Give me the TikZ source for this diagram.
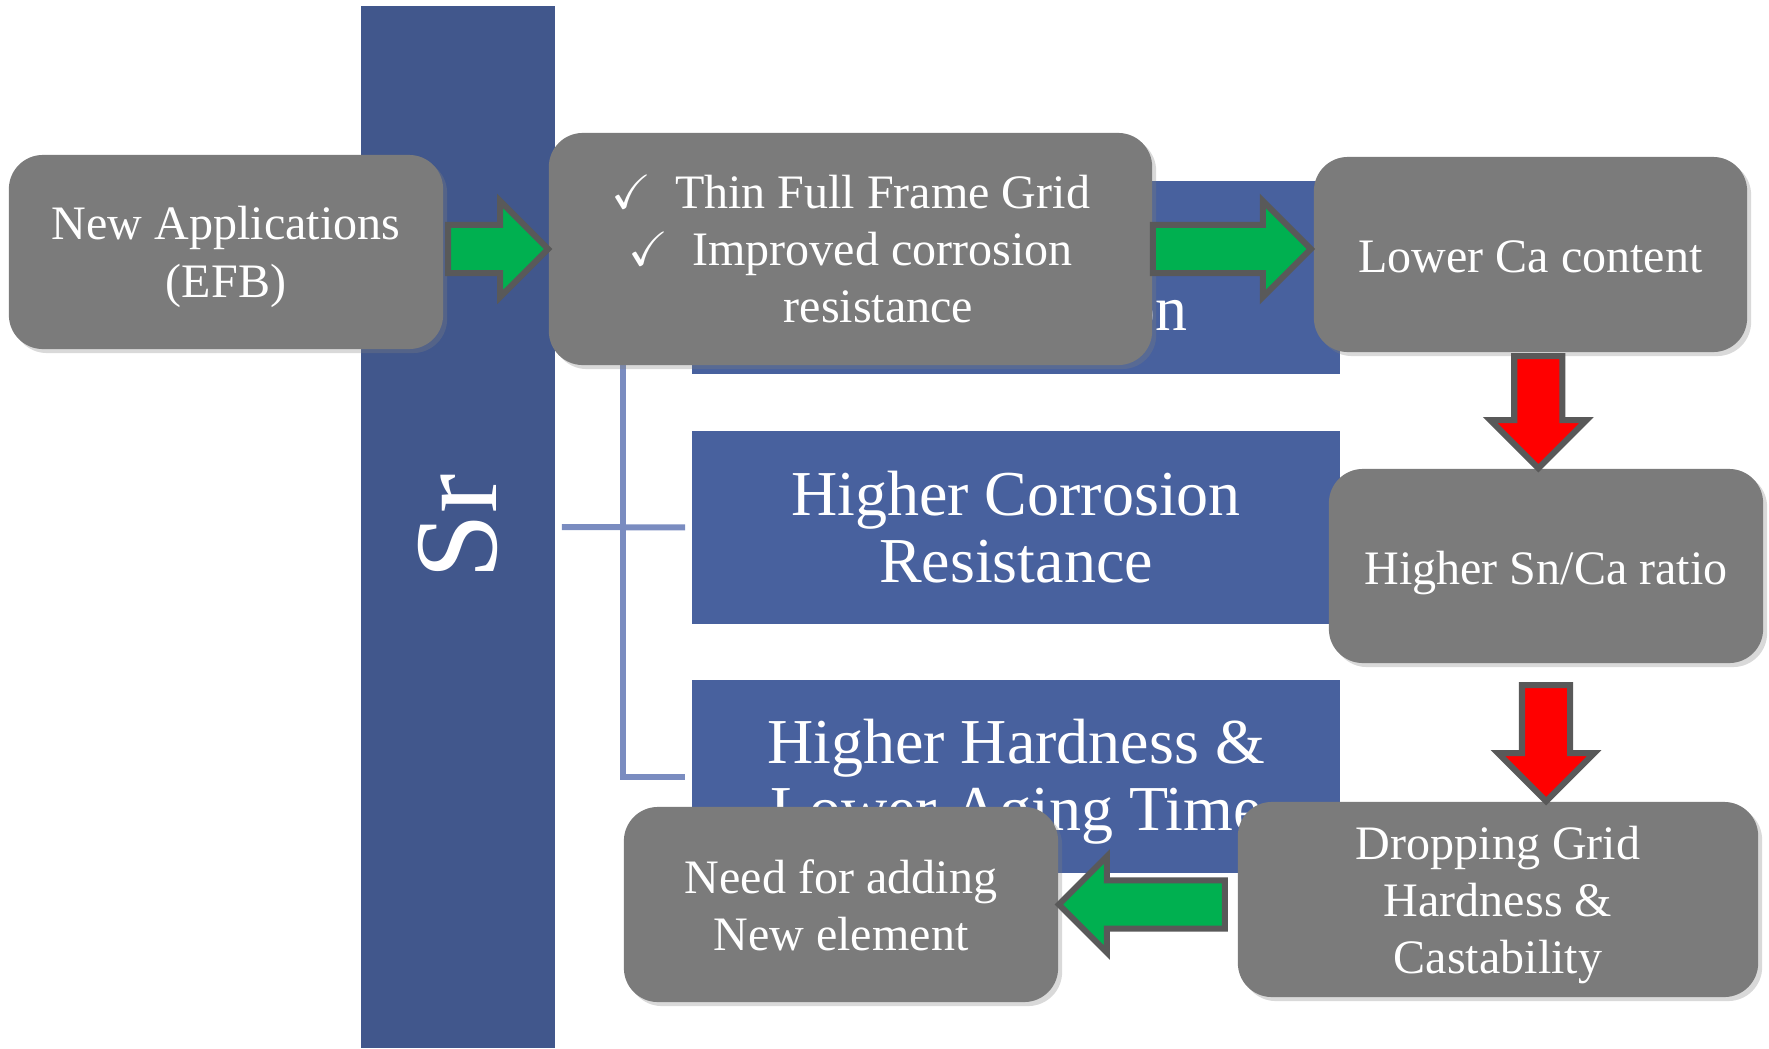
\documentclass[tikz,border=0pt]{standalone}
\usepackage{fontspec}
\setmainfont{Liberation Serif}
\usepackage{amssymb}
\usetikzlibrary{shapes.arrows,shadows,calc}

\definecolor{srblue}{RGB}{65,87,140}
\definecolor{boxblue}{RGB}{72,97,158}
\definecolor{linkblue}{RGB}{122,140,192}
\definecolor{boxgray}{RGB}{123,123,123}
\definecolor{edgegray}{RGB}{89,89,89}
\definecolor{agreen}{RGB}{0,176,80}

\newcommand\boxfont{\fontsize{13.66}{16.3}\selectfont}
\newcommand\bluefont{\fontsize{18.2}{19.1}\selectfont}
\newcommand\srfont{\fontsize{33.6}{36}\selectfont}

\begin{document}
\begin{tikzpicture}[x=0.01cm,y=-0.01cm,
  gbox/.style={fill=boxgray, rounded corners=0.34cm, inner sep=0pt,
    drop shadow={shadow xshift=0.04cm, shadow yshift=-0.04cm, opacity=0.3}},
  gtext/.style={text=white, align=center, font=\boxfont, inner sep=0pt},
  bbox/.style={fill=boxblue, minimum width=6.48cm, minimum height=1.93cm, inner sep=0pt},
  btext/.style={text=white, align=center, font=\bluefont, inner sep=0pt},
  brk/.style={draw=linkblue, line width=0.06cm},
  blk/.style={single arrow, draw=edgegray, line width=0.06cm, outer sep=0pt,
    minimum width=0pt, single arrow head extend=0.24cm, single arrow tip angle=90},
  garrow/.style={blk, fill=agreen, inner xsep=0pt, inner ysep=0.21cm},
  rarrow/.style={blk, fill=red, shape border rotate=270, inner xsep=0.21cm, inner ysep=0pt}]
\useasboundingbox (0,0) rectangle (1769,1048);

\node[fill=srblue, minimum width=1.94cm, minimum height=10.42cm, inner sep=0pt] (S) at (458,527) {};
\node[rotate=90, text=white, font=\srfont, inner sep=0pt] (Sr) at (S) {Sr};

\node[bbox] (H1) at (1016,277.5) {};
\node[bbox] (H2) at (1016,527.5) {};
\node[bbox] (H3) at (1016,776.5) {};
\node[btext, anchor=base east] (H1t) at (1188,330) {on};
\node[btext] (H2t) at (1016,527.5) {Higher Corrosion\\Resistance};
\node[btext] (H3t) at (1016,781.5) {Higher Hardness \&\\Lower Aging Time};

\coordinate (J) at (623,527);
\draw[brk, shorten <=0.06cm, shorten >=0.06cm] (S.east) -- (H2.west);
\draw[brk, shorten >=0.06cm] (H1.west) -| (J) |- (H3.west);

\node[gbox, minimum width=4.34cm, minimum height=1.94cm] (A) at (226,252) {};
\node[gtext] (At) at (226,257) {New Applications\\(EFB)};
\node[gbox, minimum width=6.03cm, minimum height=2.32cm] (B) at (850.5,249) {};
\node[gtext] (Bt) at (850.5,249)
  {$\checkmark$\enspace Thin Full Frame Grid\\$\checkmark$\enspace Improved corrosion\\\hspace*{0.56cm}resistance};
\node[gbox, minimum width=4.33cm, minimum height=1.95cm] (C) at (1530.5,254.5) {};
\node[gtext] (Ct) at (1530.5,256.5) {Lower Ca content};
\node[gbox, minimum width=4.34cm, minimum height=1.94cm] (D) at (1546,566) {};
\node[gtext] (Dt) at (1546,573) {Higher Sn/Ca ratio};
\node[gbox, minimum width=5.20cm, minimum height=1.95cm] (E) at (1498,899.5) {};
\node[gtext] (Et) at (1498,905) {Dropping Grid\\Hardness \&\\Castability};
\node[gbox, minimum width=4.34cm, minimum height=1.95cm] (F) at (841,904.5) {};
\node[gtext] (Ft) at (841,905.5) {Need for adding\\New element};

\coordinate (m1) at ($(C.south)!.5!(D.north)$);
\node[garrow, minimum height=1.0cm, anchor=tip] (g1) at (B.west) {};
\node[garrow, minimum height=1.58cm, anchor=tail] (g2) at (B.east) {};
\node[rarrow, minimum height=1.12cm, anchor=tip] (r1) at (m1 |- D.north) {};
\node[rarrow, minimum height=1.16cm, anchor=tip] (r2) at (D.south |- E.north) {};
\node[garrow, shape border rotate=180, minimum height=1.66cm, anchor=tip] (g3) at (F.east) {};
\end{tikzpicture}
\end{document}
